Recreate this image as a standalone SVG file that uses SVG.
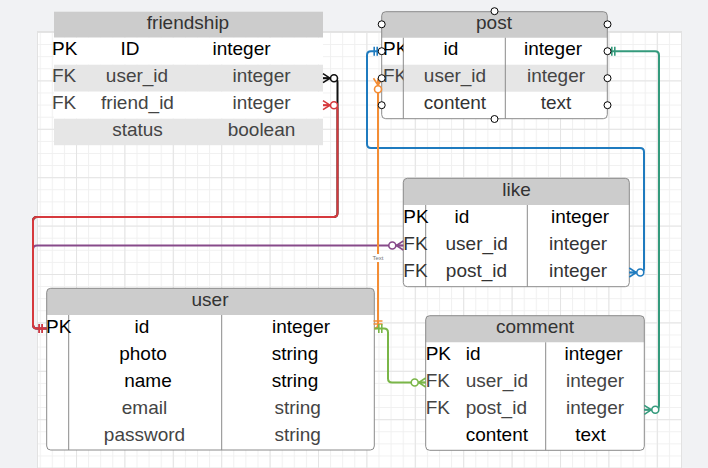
<svg xmlns="http://www.w3.org/2000/svg" xmlns:xlink="http://www.w3.org/1999/xlink" width="708" height="468" viewBox="0 0 708 468">
<style>
.t{font-family:"Liberation Sans",Arial,Helvetica,sans-serif;font-size:19px}
.t text{transform:translateY(-1.2px)}
.c{text-anchor:middle}
.hd{fill:#333}
.k{fill:#000}
.g{fill:#444}
.hdr{fill:#cccccc}
.row{fill:#e6e6e6}
.wrow{fill:#ffffff}
.frame{fill:none;stroke:#8a8a8a;stroke-width:1}
.div{stroke:#8a8a8a;stroke-width:1}
.conn{fill:none;stroke-width:2;stroke-linejoin:round}
.mk{stroke-width:1.6}
.hdl{fill:#fff;stroke:#000;stroke-width:1}
</style>
<defs>
<pattern id="gMinor" width="12.1" height="12.1" patternUnits="userSpaceOnUse" x="27.6" y="32">
<path d="M0,0.5H12.1M0.5,0V12.1" fill="none" stroke="#f0f0f0" stroke-width="1"/>
</pattern>
<pattern id="gMajor" width="48.4" height="48.4" patternUnits="userSpaceOnUse" x="27.6" y="32">
<path d="M0,0.5H48.4M0.5,0V48.4" fill="none" stroke="#e4e4e4" stroke-width="1"/>
</pattern>
<g id="zm"><path d="M0,-4.5L-7,0L0,4.5M-7,0H0" fill="none"/><circle cx="-11" cy="0" r="3.5" fill="#fff"/></g>
<g id="mo"><path d="M-4.5,-4.5V4.5M-7.5,-4.5V4.5" fill="none"/></g>
<clipPath id="postPK"><rect x="381.7" y="37.7" width="21.6" height="81"/></clipPath>
</defs>

<rect x="0" y="0" width="708" height="468" fill="#f1f2f4"/>
<g id="page">
<rect x="37.5" y="31.5" width="644" height="440" fill="#ffffff" stroke="#e2e2e2"/>
<rect x="38" y="32" width="643" height="436" fill="url(#gMinor)"/>
<rect x="38" y="32" width="643" height="436" fill="url(#gMajor)"/>
</g>

<g id="friendship" class="t">
<rect class="hdr" x="54" y="11.7" width="269" height="26"/>
<rect class="wrow" x="54" y="37.7" width="269" height="27"/>
<rect class="row" x="54" y="64.7" width="269" height="27"/>
<rect class="wrow" x="54" y="91.7" width="269" height="27"/>
<rect class="row" x="54" y="118.7" width="269" height="26.5"/>
<text class="hd c" x="188" y="30.5">friendship</text>
<text class="k" x="52" y="56.7">PK</text>
<text class="k c" x="130" y="56.7">ID</text>
<text class="k c" x="241.5" y="56.7">integer</text>
<text class="g" x="52" y="83.7">FK</text>
<text class="g c" x="137" y="83.7">user_id</text>
<text class="g c" x="261.5" y="83.7">integer</text>
<text class="g" x="52" y="110.7">FK</text>
<text class="g c" x="137.5" y="110.7">friend_id</text>
<text class="g c" x="261.5" y="110.7">integer</text>
<text class="g c" x="137.5" y="137.3">status</text>
<text class="g c" x="261.5" y="137.3">boolean</text>
</g>

<g id="post" class="t">
<rect x="381.7" y="11.7" width="225.6" height="107" rx="4" fill="#fff"/>
<path class="hdr" d="M381.7,37.7V15.7Q381.7,11.7 385.7,11.7H603.3Q607.3,11.7 607.3,15.7V37.7Z"/>
<rect class="row" x="381.7" y="64.7" width="225.6" height="27"/>
<line class="div" x1="403.3" y1="37.7" x2="403.3" y2="118.7"/>
<line class="div" x1="505.3" y1="37.7" x2="505.3" y2="118.7"/>
<rect class="frame" x="381.7" y="11.7" width="225.6" height="107" rx="4"/>
<text class="hd c" x="494" y="30.5">post</text>
<g clip-path="url(#postPK)">
<text class="k" x="383" y="56.7">PK</text>
<text class="g" x="383" y="83.7">FK</text>
</g>
<text class="k c" x="451" y="56.7">id</text>
<text class="k c" x="553" y="56.7">integer</text>
<text class="g c" x="455" y="83.7">user_id</text>
<text class="g c" x="556" y="83.7">integer</text>
<text class="hd c" x="455" y="110.7">content</text>
<text class="hd c" x="556" y="110.7">text</text>
</g>

<g id="like" class="t">
<rect x="403.3" y="178.3" width="226" height="108.4" rx="4" fill="#fff"/>
<path class="hdr" d="M403.3,205V182.3Q403.3,178.3 407.3,178.3H625.3Q629.3,178.3 629.3,182.3V205Z"/>
<line class="div" x1="425.7" y1="205" x2="425.7" y2="286.7"/>
<line class="div" x1="527.3" y1="205" x2="527.3" y2="286.7"/>
<rect class="frame" x="403.3" y="178.3" width="226" height="108.4" rx="4"/>
<text class="hd c" x="516.5" y="197.2">like</text>
<text class="k" x="403.3" y="224">PK</text>
<text class="k c" x="462" y="224">id</text>
<text class="k c" x="580" y="224">integer</text>
<text class="hd" x="403.3" y="251">FK</text>
<text class="hd c" x="476.7" y="251">user_id</text>
<text class="hd c" x="578" y="251">integer</text>
<text class="hd" x="403.3" y="278">FK</text>
<text class="hd c" x="476.5" y="278">post_id</text>
<text class="hd c" x="578" y="278">integer</text>
</g>

<g id="user" class="t">
<rect x="46.7" y="288.3" width="327.6" height="161.7" rx="4" fill="#fff"/>
<path class="hdr" d="M46.7,315V292.3Q46.7,288.3 50.7,288.3H370.3Q374.3,288.3 374.3,292.3V315Z"/>
<line class="div" x1="68.7" y1="315" x2="68.7" y2="450"/>
<line class="div" x1="221.7" y1="315" x2="221.7" y2="450"/>
<rect class="frame" x="46.7" y="288.3" width="327.6" height="161.7" rx="4"/>
<text class="hd c" x="210" y="307.2">user</text>
<text class="k" x="46" y="334">PK</text>
<text class="k c" x="142" y="334">id</text>
<text class="k c" x="301" y="334">integer</text>
<text class="k c" x="143" y="361">photo</text>
<text class="k c" x="295" y="361">string</text>
<text class="k c" x="148" y="388">name</text>
<text class="k c" x="295" y="388">string</text>
<text class="g c" x="144.5" y="415">email</text>
<text class="g c" x="297.7" y="415">string</text>
<text class="g c" x="144.5" y="442">password</text>
<text class="g c" x="297.7" y="442">string</text>
</g>

<g id="comment" class="t">
<rect x="425.7" y="315.7" width="218.6" height="134.6" rx="4" fill="#fff"/>
<path class="hdr" d="M425.7,342.3V319.7Q425.7,315.7 429.7,315.7H640.3Q644.3,315.7 644.3,319.7V342.3Z"/>
<line class="div" x1="545.7" y1="342.3" x2="545.7" y2="450.3"/>
<rect class="frame" x="425.7" y="315.7" width="218.6" height="134.6" rx="4"/>
<text class="hd c" x="535" y="334.5">comment</text>
<text class="k" x="425.7" y="361.3">PK</text>
<text class="k" x="465.7" y="361.3">id</text>
<text class="k c" x="593.5" y="361.3">integer</text>
<text class="g" x="425.7" y="388.3">FK</text>
<text class="g" x="465.7" y="388.3">user_id</text>
<text class="g c" x="595" y="388.3">integer</text>
<text class="g" x="425.7" y="415.3">FK</text>
<text class="g" x="465.7" y="415.3">post_id</text>
<text class="g c" x="595" y="415.3">integer</text>
<text class="k" x="465.7" y="442.3">content</text>
<text class="k c" x="590.5" y="442.3">text</text>
</g>

<g id="connectors">
<g id="c-black" stroke="#111111">
<path class="conn" d="M323,78.2H333.5Q337.5,78.2 337.5,82.2V213Q337.5,217 333.5,217H37Q33,217 33,221V324.5Q33,328.5 37,328.5H46.7"/>
<use class="mk" xlink:href="#zm" href="#zm" transform="translate(323,78.2) rotate(180)"/>
</g>
<g id="c-purple" stroke="#874a8a">
<path class="conn" d="M403.3,245.5H37Q33,245.5 33,249.5V324.5Q33,328.5 37,328.5H46.7"/>
<use class="mk" xlink:href="#zm" href="#zm" transform="translate(403.3,245.5)"/>
<use class="mk" xlink:href="#mo" href="#mo" transform="translate(46.7,328.5)"/>
</g>
<g id="c-red" stroke="#d6393d">
<path class="conn" d="M323,105.2H333.5Q337.5,105.2 337.5,109.2V213Q337.5,217 333.5,217H37Q33,217 33,221V324.5Q33,328.5 37,328.5H46.7"/>
<use class="mk" xlink:href="#zm" href="#zm" transform="translate(323,105.2) rotate(180)"/>
<use class="mk" xlink:href="#mo" href="#mo" transform="translate(46.7,328.5)"/>
</g>
<g id="c-blue" stroke="#1f7bbf">
<path class="conn" d="M381.7,51.2H371Q367,51.2 367,55.2V144Q367,148 371,148H640Q644,148 644,152V268.5Q644,272.5 640,272.5H629.3"/>
<use class="mk" xlink:href="#mo" href="#mo" transform="translate(381.7,51.2)"/>
<use class="mk" xlink:href="#zm" href="#zm" transform="translate(629.3,272.5) rotate(180)"/>
</g>
<g id="c-orange" stroke="#f38d35">
<path class="conn" d="M381.7,78.2Q378,78.2 378,82V324.5Q378,328.5 374.3,328.5"/>
<use class="mk" xlink:href="#zm" href="#zm" transform="translate(378,78.2) rotate(-90)"/>
<use class="mk" xlink:href="#mo" href="#mo" transform="translate(378,328.5) rotate(90)"/>
</g>
<g id="c-green" stroke="#7ab648">
<path class="conn" d="M374.3,328.5H384Q388,328.5 388,332.5V378.5Q388,382.5 392,382.5H425.7"/>
<use class="mk" xlink:href="#mo" href="#mo" transform="translate(374.3,328.5) rotate(180)"/>
<use class="mk" xlink:href="#zm" href="#zm" transform="translate(425.7,382.5)"/>
</g>
<g id="c-teal" stroke="#349a7c">
<path class="conn" d="M607.3,51.2H655Q659,51.2 659,55.2V405.8Q659,409.8 655,409.8H644.3"/>
<use class="mk" xlink:href="#mo" href="#mo" transform="translate(607.3,51.2) rotate(180)"/>
<use class="mk" xlink:href="#zm" href="#zm" transform="translate(644.3,409.8) rotate(180)"/>
</g>
<g id="c-label">
<rect x="372" y="254" width="12" height="8" fill="#ffffff"/>
<text x="378" y="260.3" text-anchor="middle" font-family="Liberation Sans, Arial, sans-serif" font-size="6" fill="#777777">Text</text>
</g>
</g>

<g id="post-handles">
<circle class="hdl" cx="494.5" cy="11.2" r="3.5"/>
<circle class="hdl" cx="381.7" cy="24.3" r="3.5"/>
<circle class="hdl" cx="607.5" cy="24.3" r="3.5"/>
<circle class="hdl" cx="381.7" cy="51.2" r="3.5"/>
<circle class="hdl" cx="381.7" cy="78.2" r="3.5"/>
<circle class="hdl" cx="381.7" cy="105.2" r="3.5"/>
<circle class="hdl" cx="607.5" cy="51.2" r="3.5"/>
<circle class="hdl" cx="607.5" cy="78.2" r="3.5"/>
<circle class="hdl" cx="607.5" cy="105.2" r="3.5"/>
<circle class="hdl" cx="494.5" cy="119" r="3.5"/>
</g>
</svg>
